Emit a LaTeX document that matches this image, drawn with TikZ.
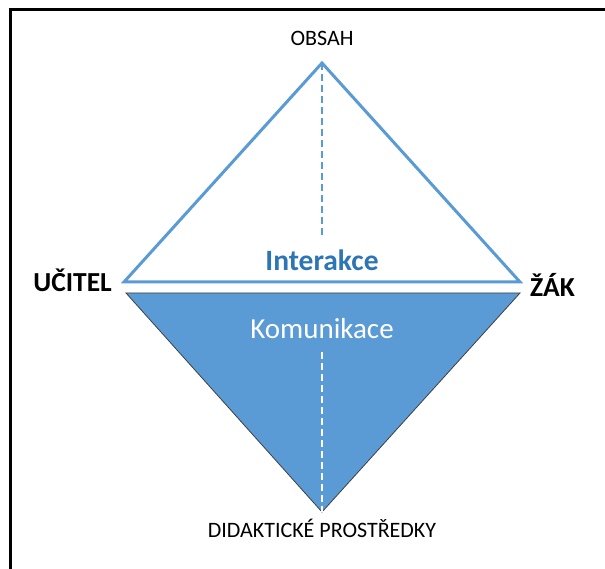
\documentclass[tikz,border=0pt]{standalone}
\usepackage{fontspec}
\setmainfont{Carlito}
\definecolor{officeblue}{HTML}{5B9BD5}
\definecolor{darkblue}{HTML}{2E75B6}
\begin{document}
\begin{tikzpicture}[x=1pt, y=-1pt]
		\tikzset{corner/.style = {font=\bfseries\fontsize{27.5}{30}\selectfont, inner sep=0pt},
			pole/.style = {font=\fontsize{22}{26}\selectfont, inner sep=0pt, anchor=base},
			middle/.style = {font=\fontsize{29}{32}\selectfont, inner sep=0pt, anchor=base},
			axis/.style = {line width=2.5pt, dash pattern=on 7pt off 4pt}}
		\useasboundingbox (0,0) rectangle (605,569);
		% Draw frame
		\draw[line width=3pt] (10.5,569) -- (10.5,10) -- (605,10);
		% Draw upper triangle
		\coordinate (T) at (322,63);
		\coordinate (L) at (124,282);
		\coordinate (R) at (520,282);
		\coordinate (TM) at (322,236);
		\draw[officeblue, line width=3pt, line join=miter] (T) -- (R) -- (L) -- cycle;
		\draw[officeblue, axis] (T) -- (TM);
		% Draw lower triangle
		\coordinate (B) at (322,512);
		\coordinate (BL) at (126,293);
		\coordinate (BR) at (520,293);
		\coordinate (BM) at (322,352);
		\draw[fill=officeblue, draw=black!75, line width=.8pt] (BL) -- (BR) -- (B) -- cycle;
		\draw[white, axis] (BM) -- (B);
		% Labels
		\node[pole] (obsah) at (322,46) {OBSAH};
		\node[pole] (prostredky) at (322,537) {DIDAKTICKÉ PROSTŘEDKY};
		\node[corner, anchor=base east] (ucitel) at (112,292) {UČITEL};
		\node[corner, anchor=base west] (zak) at (530,297) {ŽÁK};
		\node[middle, font=\bfseries\fontsize{29.5}{32}\selectfont, text=darkblue] (interakce) at (322,271) {Interakce};
		\node[middle, text=white] (komunikace) at (322,338) {Komunikace};
	\end{tikzpicture}
\end{document}
